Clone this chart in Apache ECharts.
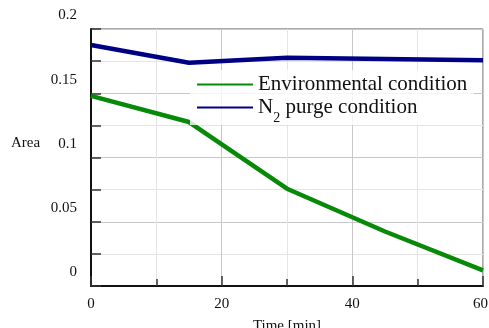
<!DOCTYPE html>
<html>
<head>
<meta charset="utf-8">
<script src="https://cdn.jsdelivr.net/npm/echarts@6/dist/echarts.min.js"></script>
<style>
html,body{margin:0;padding:0;background:#fff;}
#c{width:489px;height:328px;}
</style>
</head>
<body>
<div id="c"></div>
<script>
var times = [0, 15, 30, 45, 60];
var envValues = [0.1479, 0.1276, 0.0757, 0.0424, 0.0122];
var n2Values = [0.1875, 0.1738, 0.1777, 0.1767, 0.1757];
var seriesNames = ['Environmental condition', 'N2 purge condition'];
var xTicks = [0, 20, 40, 60];
var yTicks = [0, 0.05, 0.1, 0.15, 0.2];

var FONT = "'Liberation Serif', 'Times New Roman', serif";
function pairs(xs, ys){ return xs.map(function(x,i){ return [x, ys[i]]; }); }
var LINE_ICON = 'path://M0,0 L56,0 L56,2 L0,2 Z';
var X_MAX = xTicks[xTicks.length-1];

var chart = echarts.init(document.getElementById('c'), null, {renderer:'canvas'});
chart.setOption({
  animation: false,
  backgroundColor: '#fff',
  textStyle: {fontFamily: FONT},
  grid: {left: 91, top: 29, right: 6, bottom: 42, show: true, borderColor: '#555', borderWidth: 1,
         backgroundColor: 'transparent', containLabel: false, outerBoundsMode: 'none'},
  legend: {
    left: 190, top: 70,
    orient: 'vertical',
    itemWidth: 56, itemHeight: 22, itemGap: 2,
    padding: [4, 6, 0, 7],
    backgroundColor: 'rgba(255,255,255,0.8)',
    icon: LINE_ICON,
    textStyle: {fontFamily: FONT, fontSize: 21, color: '#111',
      rich: {sub: {fontFamily: FONT, fontSize: 14, color: '#111', verticalAlign: 'bottom', padding: [0,0,-7,0]},
             t: {fontFamily: FONT, fontSize: 21, color: '#111'}}},
    formatter: function(name){
      if (name === seriesNames[1]) return '{t|N}{sub|2}{t| purge condition}';
      return name;
    },
    data: seriesNames
  },
  xAxis: {
    type: 'value', min: xTicks[0], max: X_MAX, interval: 20,
    name: 'Time [min]', nameLocation: 'middle', nameGap: 33,
    nameTextStyle: {fontFamily: FONT, fontSize: 15, color: '#111'},
    axisLine: {show: true, lineStyle: {color: '#111', width: 2}},
    axisTick: {show: true, inside: true, length: 10, lineStyle: {color: '#333', width: 1.5}},
    minorTick: {show: true, splitNumber: 2, length: 7, lineStyle: {color: '#333', width: 1.5}},
    axisLabel: {fontFamily: FONT, fontSize: 15, color: '#111', margin: 11,
      formatter: function(v){ return v === X_MAX ? '{r|' + v + '}' : String(v); },
      rich: {r: {fontFamily: FONT, fontSize: 15, color: '#111', padding: [0, 5, 0, 0]}}},
    splitLine: {show: true, lineStyle: {color: '#c8c8c8', width: 1}},
    minorSplitLine: {show: true, lineStyle: {color: '#e4e4e4', width: 1}}
  },
  yAxis: {
    type: 'value', min: yTicks[0], max: yTicks[yTicks.length-1], interval: 0.05,
    axisLine: {show: true, lineStyle: {color: '#111', width: 2}},
    axisTick: {show: true, inside: true, length: 10, lineStyle: {color: '#333', width: 1.5}},
    minorTick: {show: true, splitNumber: 2, length: 10, lineStyle: {color: '#333', width: 1.5}},
    axisLabel: {fontFamily: FONT, fontSize: 15, color: '#111', margin: 14, verticalAlign: 'bottom', padding: [0,0,6,0],
      formatter: function(v){ return String(+v.toFixed(3)); }},
    splitLine: {show: true, lineStyle: {color: '#c8c8c8', width: 1}},
    minorSplitLine: {show: true, lineStyle: {color: '#e4e4e4', width: 1}}
  },
  graphic: [{
    type: 'text', left: 11, top: 136,
    style: {text: 'Area', font: '15px ' + FONT, fill: '#111'}
  }],
  series: [
    {name: seriesNames[0], type: 'line', data: pairs(times, envValues), symbol: 'none',
     lineStyle: {color: '#078a07', width: 4.5}, itemStyle: {color: '#078a07'}, z: 3},
    {name: seriesNames[1], type: 'line', data: pairs(times, n2Values), symbol: 'none',
     lineStyle: {color: '#000085', width: 4.5}, itemStyle: {color: '#000085'}, z: 3}
  ]
});
</script>
</body>
</html>
